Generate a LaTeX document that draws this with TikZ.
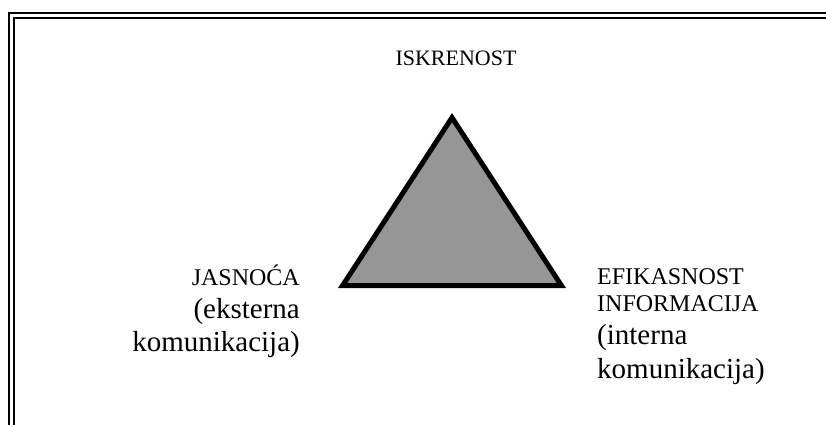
\documentclass[tikz,border=0pt]{standalone}
\usepackage{fontspec}
\setmainfont{Liberation Serif}
\begin{document}
\begin{tikzpicture}[x=1pt,y=-1pt,
  frameline/.style={line width=2.2pt,black},
  capslabel/.style={inner sep=0pt,font=\fontsize{24}{28}\selectfont},
  smalllabel/.style={inner sep=0pt,font=\fontsize{29}{34}\selectfont},
  toplabel/.style={inner sep=0pt,font=\fontsize{22}{26}\selectfont},
  tri/.style={line width=5pt,line join=miter,draw=black,fill=triGray}]
\definecolor{triGray}{RGB}{150,150,150}
\useasboundingbox (0,0) rectangle (826,425);
\clip (0,0) rectangle (826,425);
% double frame (right and bottom sides run beyond the picture)
\draw[frameline] (9,13) rectangle (860,460);
\draw[frameline] (14,18) rectangle (855,455);
% triangle
\coordinate (apex) at (452,117.6);
\coordinate (bl) at (342.6,285.5);
\coordinate (br) at (561.4,285.5);
\draw[tri] (apex) -- (bl) -- (br) -- cycle;
% labels
\node[toplabel,anchor=base] (isk) at (456,66) {ISKRENOST};
\node[capslabel,anchor=base east] (jas1) at (300,285.7) {JASNOĆA};
\node[smalllabel,anchor=base east] (jas2) at (300,318) {(eksterna};
\node[smalllabel,anchor=base east] (jas3) at (300,351.7) {komunikacija)};
\node[capslabel,anchor=base west] (ef1) at (597,284) {EFIKASNOST};
\node[capslabel,anchor=base west] (ef2) at (597,311.5) {INFORMACIJA};
\node[smalllabel,anchor=base west] (ef3) at (597,344.5) {(interna};
\node[smalllabel,anchor=base west] (ef4) at (597,378) {komunikacija)};
\end{tikzpicture}
\end{document}
